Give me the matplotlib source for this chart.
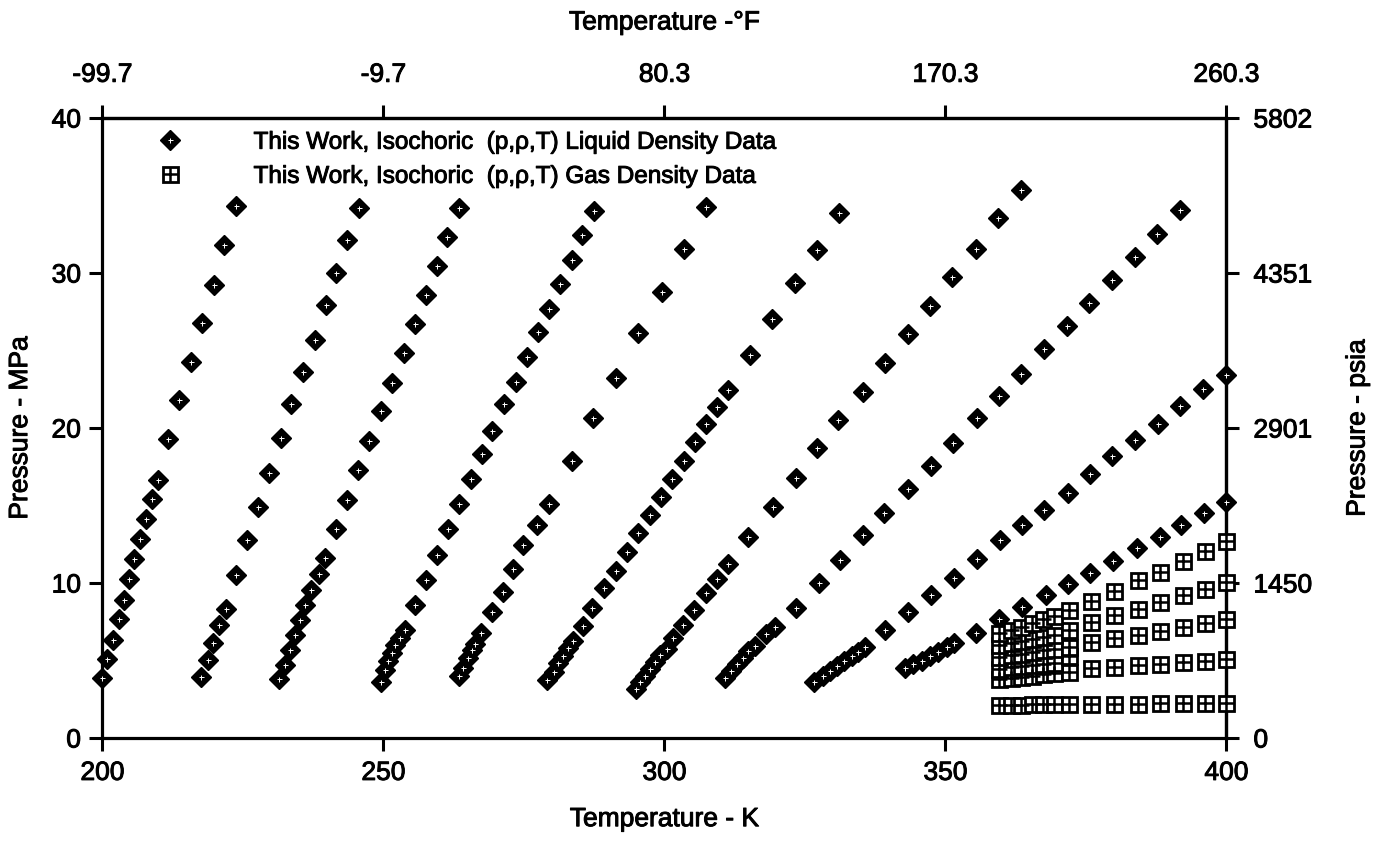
import matplotlib
matplotlib.use("Agg")
import matplotlib.pyplot as plt
from matplotlib.lines import Line2D
from matplotlib.legend_handler import HandlerTuple
from matplotlib.text import Text
import matplotlib.patheffects as pe

plt.rcParams['font.family'] = ['Liberation Sans', 'DejaVu Sans']
plt.rcParams['font.size'] = 19

# ---------------- data (T in K, p in MPa) ----------------
# liquid isochores (diamonds)
liq_T_1 = [200.0, 200.9, 201.9, 202.9, 203.9, 204.7, 205.7, 206.7, 207.8, 208.8, 209.9, 211.7, 213.7, 215.8, 217.8, 219.8, 221.6, 223.7]
liq_P_1 = [3.84, 5.07, 6.33, 7.67, 8.93, 10.23, 11.57, 12.87, 14.13, 15.43, 16.67, 19.26, 21.82, 24.25, 26.78, 29.23, 31.83, 34.3]

liq_T_2 = [217.5, 218.7, 219.7, 220.7, 221.9, 223.7, 225.8, 227.6, 229.7, 231.7, 233.6, 235.7, 237.8, 239.7, 241.6, 243.6, 245.7]
liq_P_2 = [3.92, 5.01, 6.14, 7.27, 8.35, 10.52, 12.75, 14.91, 17.08, 19.36, 21.53, 23.59, 25.71, 27.92, 29.98, 32.1, 34.2]

liq_T_3 = [231.5, 232.5, 233.4, 234.2, 235.2, 236.0, 237.2, 238.5, 239.6, 241.6, 243.5, 245.5, 247.5, 249.6, 251.6, 253.6, 255.6, 257.5, 259.5, 261.3, 263.5]
liq_P_3 = [3.78, 4.73, 5.66, 6.64, 7.61, 8.59, 9.57, 10.59, 11.59, 13.47, 15.38, 17.31, 19.18, 21.07, 22.88, 24.81, 26.7, 28.59, 30.46, 32.34, 34.18]

liq_T_4 = [249.6, 250.3, 250.9, 251.6, 252.1, 252.9, 253.8, 255.7, 257.5, 259.5, 261.5, 263.5, 265.5, 267.5, 269.4, 271.4, 273.6, 275.5, 277.5, 279.4, 281.5, 283.5, 285.4, 287.4]
liq_P_4 = [3.63, 4.39, 4.99, 5.47, 6.03, 6.47, 6.95, 8.58, 10.2, 11.83, 13.46, 15.09, 16.72, 18.34, 19.8, 21.58, 22.95, 24.6, 26.2, 27.68, 29.31, 30.83, 32.46, 33.98]

liq_T_5 = [263.4, 264.2, 265.1, 265.7, 266.3, 267.4, 269.4, 271.2, 273.0, 274.9, 277.4, 279.4, 283.6, 287.3, 291.3, 295.3, 299.5, 303.4, 307.4]
liq_P_5 = [3.98, 4.52, 5.17, 5.71, 6.04, 6.75, 8.15, 9.45, 10.92, 12.45, 13.76, 15.1, 17.88, 20.67, 23.23, 26.14, 28.79, 31.57, 34.29]

liq_T_6 = [279.1, 280.3, 281.1, 282.0, 282.9, 283.8, 285.5, 287.2, 289.3, 291.3, 293.3, 295.3, 297.5, 299.4, 301.4, 303.4, 305.5, 307.4, 309.3, 311.3, 315.3, 319.2, 323.2, 327.1, 331.0]
liq_P_6 = [3.73, 4.27, 4.81, 5.32, 5.79, 6.23, 7.21, 8.4, 9.67, 10.8, 11.99, 13.2, 14.39, 15.58, 16.72, 17.87, 19.07, 20.26, 21.35, 22.44, 24.72, 27.01, 29.34, 31.51, 33.86]

liq_T_7 = [294.9, 295.7, 296.6, 297.5, 298.3, 299.2, 300.4, 301.5, 303.3, 305.2, 307.4, 309.4, 311.3, 314.9, 319.3, 323.4, 327.2, 330.9, 335.3, 339.3, 343.3, 347.3, 351.2, 355.4, 359.4, 363.4]
liq_P_7 = [3.16, 3.59, 4.03, 4.47, 4.9, 5.34, 5.77, 6.43, 7.3, 8.23, 9.37, 10.24, 11.22, 12.97, 14.93, 16.78, 18.74, 20.49, 22.34, 24.19, 26.05, 27.86, 29.75, 31.57, 33.53, 35.36]

liq_T_8 = [310.8, 311.9, 312.9, 313.9, 314.9, 316.1, 318.1, 319.6, 323.4, 327.5, 331.2, 335.4, 339.1, 343.3, 347.4, 351.4, 355.6, 359.6, 363.5, 367.5, 371.6, 375.6, 379.6, 383.7, 387.7, 391.7]
liq_P_8 = [3.88, 4.32, 4.75, 5.19, 5.61, 5.95, 6.72, 7.16, 8.37, 10.0, 11.51, 13.08, 14.53, 16.04, 17.55, 19.05, 20.63, 22.07, 23.51, 25.09, 26.6, 28.04, 29.55, 31.06, 32.5, 34.07]

liq_T_9 = [326.7, 328.2, 329.4, 330.7, 332.0, 333.3, 334.5, 335.7, 339.2, 343.3, 347.4, 351.5, 355.6, 359.7, 363.7, 367.6, 371.8, 375.7, 379.7, 383.8, 387.8, 391.7, 395.8, 400.0]
liq_P_9 = [3.64, 3.99, 4.32, 4.65, 4.98, 5.27, 5.57, 5.84, 7.0, 8.14, 9.24, 10.33, 11.58, 12.75, 13.74, 14.73, 15.83, 17.03, 18.17, 19.23, 20.28, 21.43, 22.49, 23.44]

liq_T_10 = [342.9, 344.3, 345.8, 347.3, 348.7, 350.2, 351.5, 355.5, 359.6, 363.7, 367.9, 371.9, 375.8, 379.8, 384.1, 388.2, 392.0, 396.1, 400.0]
liq_P_10 = [4.5, 4.75, 5.0, 5.29, 5.57, 5.86, 6.13, 6.79, 7.68, 8.45, 9.23, 9.94, 10.67, 11.44, 12.28, 13.0, 13.77, 14.54, 15.2]

# gas isochores (squares)
gas_T = [359.6, 361.7, 363.5, 365.5, 367.4, 369.3, 372.0, 375.9, 380.0, 384.2, 388.2, 392.2, 396.2, 400.0]
gas_P_1 = [2.15, 2.15, 2.16, 2.17, 2.17, 2.18, 2.19, 2.2, 2.21, 2.22, 2.23, 2.24, 2.25, 2.26]
gas_P_2 = [3.78, 3.86, 3.95, 4.03, 4.11, 4.19, 4.28, 4.5, 4.6, 4.7, 4.8, 4.9, 5.0, 5.1]
gas_P_3 = [5.22, 5.33, 5.44, 5.55, 5.66, 5.77, 5.88, 6.2, 6.43, 6.67, 6.91, 7.15, 7.4, 7.65]
gas_P_4 = [5.97, 6.11, 6.25, 6.39, 6.53, 6.67, 7.0, 7.5, 7.95, 8.35, 8.8, 9.2, 9.6, 10.05]
gas_P_5 = [6.75, 6.95, 7.15, 7.4, 7.65, 7.9, 8.28, 8.83, 9.5, 10.17, 10.73, 11.4, 12.06, 12.7]
gas_T_short = [359.6, 361.7, 363.5, 365.5, 367.4, 369.3, 372.0]
gas_P_short = [4.47, 4.55, 4.63, 4.71, 4.79, 4.87, 5.3]

# axis ticks and labels
K_ticks = [200, 250, 300, 350, 400]
MPa_ticks = [0, 10, 20, 30, 40]
F_labels = ['-99.7', '-9.7', '80.3', '170.3', '260.3']
psia_labels = ['0', '1450', '2901', '4351', '5802']

liquid_label = 'This Work, Isochoric  (p,\u03c1,T) Liquid Density Data'
gas_label = 'This Work, Isochoric  (p,\u03c1,T) Gas Density Data'

# ---------------- figure ----------------
fig = plt.figure(figsize=(13.75, 8.48), dpi=100)
ax = fig.add_axes([0.0745, 0.1297, 0.8174, 0.7311])
ax.set_xlim(200, 400)
ax.set_ylim(0, 40)

liquid_sets = [(liq_T_1, liq_P_1), (liq_T_2, liq_P_2), (liq_T_3, liq_P_3), (liq_T_4, liq_P_4),
               (liq_T_5, liq_P_5), (liq_T_6, liq_P_6), (liq_T_7, liq_P_7), (liq_T_8, liq_P_8),
               (liq_T_9, liq_P_9), (liq_T_10, liq_P_10)]

dia_kw = dict(ls='none', marker='D', ms=9.8, mfc='black', mec='black', mew=1.0)
dot_kw = dict(ls='none', marker='+', ms=3.6, mec='white', mew=0.7)
sq_kw = dict(ls='none', marker='s', ms=10.8, mfc='white', mec='black', mew=2.0)
pl_kw = dict(ls='none', marker='+', ms=10.8, mec='black', mew=1.8)

for T, P in liquid_sets:
    ax.plot(T, P, clip_on=False, zorder=3, **dia_kw)
    ax.plot(T, P, clip_on=False, zorder=4, **dot_kw)

gas_sets = [(gas_T, gas_P_1), (gas_T, gas_P_2), (gas_T_short, gas_P_short),
            (gas_T, gas_P_3), (gas_T, gas_P_4), (gas_T, gas_P_5)]
for T, P in gas_sets:
    ax.plot(T, P, clip_on=False, zorder=5, **sq_kw)
    ax.plot(T, P, clip_on=False, zorder=6, **pl_kw)

# axes styling
for s in ax.spines.values():
    s.set_linewidth(2.3)
ax.set_xticks(K_ticks)
ax.set_yticks(MPa_ticks)
ax.tick_params(axis='x', direction='out', length=9.5, width=2.2, pad=7)
ax.tick_params(axis='y', direction='out', length=9.5, width=2.2, pad=6)
ax.set_xlabel('Temperature - K', labelpad=16)
ax.set_ylabel('Pressure - MPa', labelpad=14)

def k2f(k):
    return (k - 273.15) * 1.8 + 32.0

def f2k(f):
    return (f - 32.0) / 1.8 + 273.15

def mpa2psi(p):
    return p * 145.0377

def psi2mpa(p):
    return p / 145.0377

secx = ax.secondary_xaxis('top', functions=(k2f, f2k))
secx.set_xticks([k2f(k) for k in K_ticks])
secx.set_xticklabels(F_labels)
secx.tick_params(direction='out', length=9.5, width=2.2, pad=13)
secx.spines['top'].set_linewidth(2.3)
secx.set_xlabel('Temperature -\u00b0F', labelpad=24)

secy = ax.secondary_yaxis('right', functions=(mpa2psi, psi2mpa))
secy.set_yticks([mpa2psi(p) for p in MPa_ticks])
secy.set_yticklabels(psia_labels)
secy.tick_params(direction='out', length=9.5, width=2.2, pad=10)
secy.spines['right'].set_linewidth(2.3)
secy.set_ylabel('Pressure - psia', labelpad=24)

# legend
h_liq = (Line2D([], [], **dia_kw), Line2D([], [], **dot_kw))
h_gas = (Line2D([], [], **sq_kw), Line2D([], [], **pl_kw))
ax.legend([h_liq, h_gas], [liquid_label, gas_label],
          handler_map={tuple: HandlerTuple(ndivide=1)},
          loc='upper left', bbox_to_anchor=(0.049, 0.978), frameon=False,
          borderpad=0.0, borderaxespad=0.0, handlelength=1.0,
          handletextpad=2.95, labelspacing=0.5, fontsize=17.5)

# slightly heavier text, like the scanned original
for t in fig.findobj(Text):
    t.set_path_effects([pe.withStroke(linewidth=0.7, foreground='black')])

fig.savefig('out.png', dpi=100)
